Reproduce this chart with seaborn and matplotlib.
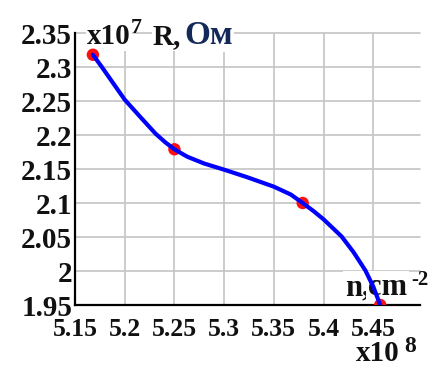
import matplotlib
matplotlib.use("Agg")
import matplotlib.pyplot as plt
import seaborn as sns
import pandas as pd

# ---- data (x in 1e8 cm^-2, R in 1e7 Ohm) ----
curve_n = [5.168, 5.177, 5.188, 5.200, 5.216, 5.231, 5.241, 5.250, 5.263, 5.280, 5.300,
           5.323, 5.350, 5.367, 5.379, 5.390, 5.400, 5.418, 5.430, 5.442, 5.450, 5.457]
curve_R = [2.318, 2.300, 2.277, 2.252, 2.226, 2.202, 2.189, 2.179, 2.168, 2.158, 2.149,
           2.138, 2.124, 2.1125, 2.100, 2.088, 2.076, 2.051, 2.028, 2.001, 1.977, 1.950]
points_n = [5.168, 5.25, 5.379, 5.457]
points_R = [2.318, 2.179, 2.100, 1.950]
xticks = [5.15, 5.2, 5.25, 5.3, 5.35, 5.4, 5.45]
yticks = [1.95, 2.0, 2.05, 2.1, 2.15, 2.2, 2.25, 2.3, 2.35]
xtick_labels = ["5.15", "5.2", "5.25", "5.3", "5.35", "5.4", "5.45"]
ytick_labels = ["1.95", "2", "2.05", "2.1", "2.15", "2.2", "2.25", "2.3", "2.35"]

sns.set_theme(style="white")
plt.rcParams["font.family"] = ["Liberation Serif", "DejaVu Serif"]
plt.rcParams["font.weight"] = "bold"

W, H = 431, 367
fig = plt.figure(figsize=(W / 100, H / 100), dpi=100)
ax = fig.add_axes([75 / W, 1 - 305 / H, (420 - 75) / W, (305 - 33) / H])

curve_df = pd.DataFrame({"n": curve_n, "R": curve_R})
pts_df = pd.DataFrame({"n": points_n, "R": points_R})

ax.set_xlim(5.15, 5.497)
ax.set_ylim(1.95, 2.35)

# grid
for xv in xticks[1:]:
    ax.axvline(xv, color="#c4c4c4", lw=1.2, zorder=0)
for yv in yticks[1:]:
    ax.axhline(yv, color="#c4c4c4", lw=1.2, zorder=0, clip_on=False)

sns.scatterplot(data=pts_df, x="n", y="R", ax=ax, color="#ff1010", s=80,
                edgecolor="none", zorder=3, legend=False)
sns.lineplot(data=curve_df, x="n", y="R", ax=ax, color="#0000ff", lw=3.0,
             zorder=4, sort=False, estimator=None)
for l in ax.get_lines():
    l.set_solid_joinstyle("round")
    l.set_solid_capstyle("round")

ax.set_xticks(xticks)
ax.set_xticklabels(xtick_labels)
ax.set_yticks(yticks)
ax.set_yticklabels(ytick_labels)
ax.tick_params(axis="both", length=0, colors="#111111")
ax.tick_params(axis="x", pad=9, labelsize=18.5)
ax.tick_params(axis="y", pad=2, labelsize=21)
for lab in ax.get_xticklabels() + ax.get_yticklabels():
    lab.set_fontweight("bold")
ax.set_xlabel("")
ax.set_ylabel("")

for side in ["top", "right"]:
    ax.spines[side].set_visible(False)
for side in ["left", "bottom"]:
    ax.spines[side].set_color("black")
    ax.spines[side].set_linewidth(1.6)

def px(x, y):
    return x / W, 1 - y / H

wbox = dict(facecolor="white", edgecolor="none", pad=1)

def ftext(x, y, s, size, zorder=6, box=False, **kw):
    kw.setdefault("fontweight", "bold")
    kw.setdefault("color", "#111111")
    ax.text(*px(x, y), s, transform=fig.transFigure, fontsize=size,
            ha="left", va="baseline", zorder=zorder, clip_on=False,
            bbox=wbox if box else None, **kw)

# top axis title
ftext(87, 44, "x10", 21, zorder=2.5, box=True)
ftext(131, 33, "7", 16)
ftext(153, 44, "R,", 21, zorder=2.5, box=True)
ftext(184, 44, "Ом", 24, zorder=2.5, box=True, color="#14285a")

# x axis label
ftext(345, 295, "n,", 22, zorder=2.5, box=True)
ftext(368, 295, "cm", 22, zorder=2.5, box=True)
ftext(411, 285, "-2", 15)
ftext(356, 361, "x10", 21)
ftext(404, 352, "8", 17)

fig.savefig("out.png", dpi=100)
